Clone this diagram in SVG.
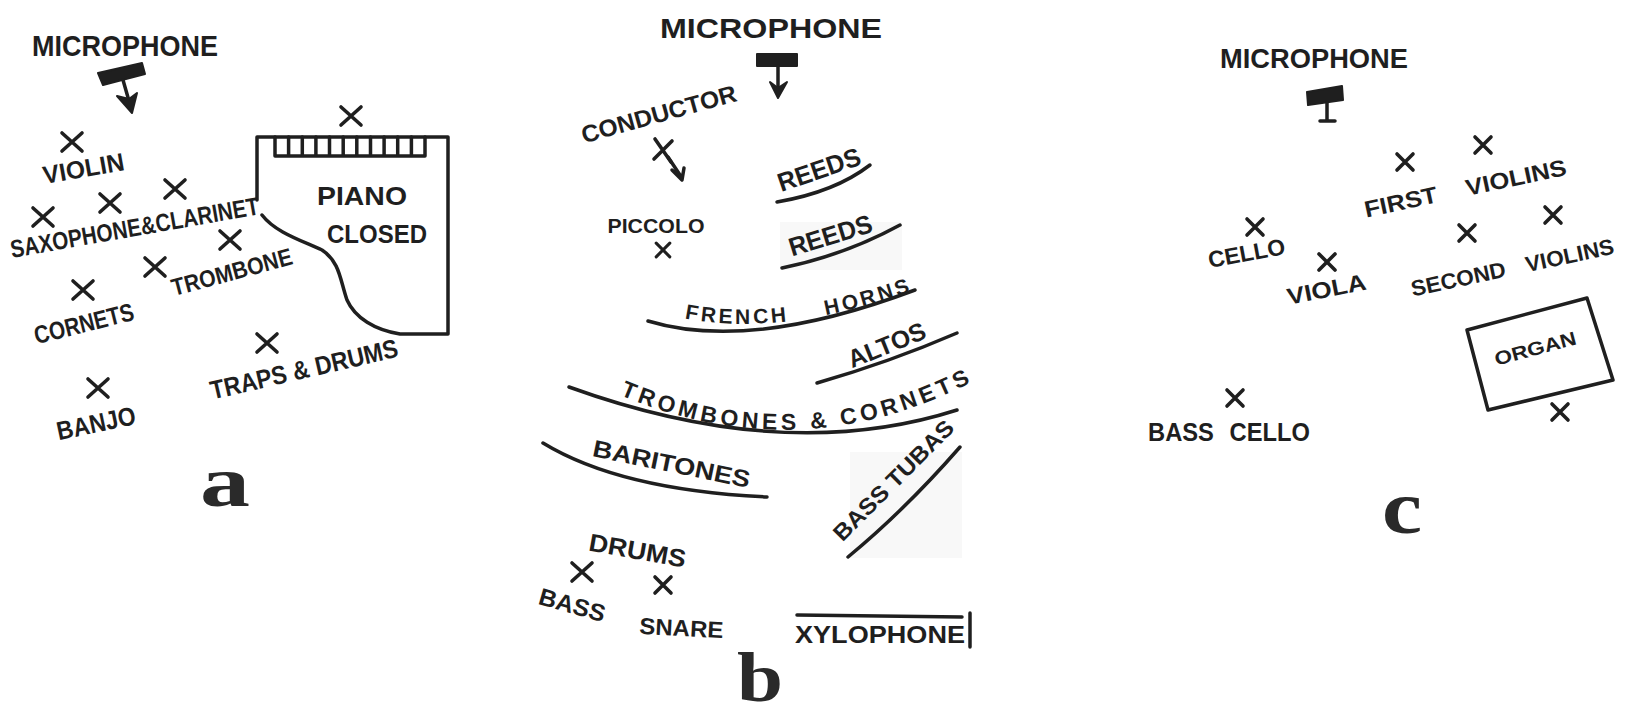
<svg xmlns="http://www.w3.org/2000/svg" xmlns:xlink="http://www.w3.org/1999/xlink" width="1633" height="718" viewBox="0 0 1633 718">
<style>
.t{font-family:"Liberation Sans",Arial,sans-serif;font-weight:bold;fill:#1f1f1f;text-anchor:middle}
.big{font-family:"Liberation Serif","Times New Roman",serif;font-weight:bold;fill:#2a2a2a;text-anchor:middle}
.ln{fill:none;stroke:#1f1f1f;stroke-width:3.5;stroke-linecap:round;stroke-linejoin:round}
.xm{fill:none;stroke:#1f1f1f;stroke-width:3.6;stroke-linecap:round}
.mic{fill:#1f1f1f;stroke:#1f1f1f;stroke-width:2;stroke-linejoin:round}
.smudge{fill:#f4f4f4;opacity:0.6}
</style>
<defs>
<path id="xa" class="xm" d="M-10,-9 L10,9 M10,-9 L-10,9"/>
<path id="xc" class="xm" d="M-8,-8 L8,8 M8,-8 L-8,8"/>
<path id="pFH" d="M683,318 Q780,338 915,290"/>
<path id="pTC" d="M622,396 Q800,470 972,382"/>
</defs>
<rect width="1633" height="718" fill="#ffffff"/>

<!-- ===== Panel a ===== -->
<g id="a-microphone">
<text class="t" x="125" y="56" font-size="30" textLength="186" lengthAdjust="spacingAndGlyphs">MICROPHONE</text>
<polygon class="mic" points="98,73 142,63 145,74 103,85"/>
</g>
<g id="a-piano">
<path class="ln" stroke-width="4" d="M257,200 L257,137 L448,137 L448,334 L400,334 C375,330 355,318 347,300 C340,280 340,262 322,250 C300,240 275,232 262,215"/>
<path class="ln" stroke-width="3" d="M275,137 L275,156 L425,156 L425,137 M288.6,137 V156 M302.3,137 V156 M315.9,137 V156 M329.5,137 V156 M343.2,137 V156 M356.8,137 V156 M370.5,137 V156 M384.1,137 V156 M397.7,137 V156 M411.4,137 V156"/>
<use href="#xa" x="351" y="116"/>
<text class="t" x="362" y="205" font-size="26" textLength="90" lengthAdjust="spacingAndGlyphs">PIANO</text>
<text class="t" x="377" y="243" font-size="26" textLength="100" lengthAdjust="spacingAndGlyphs">CLOSED</text>
</g>
<g id="a-violin">
<use href="#xa" x="72" y="142"/>
<text class="t" font-size="25" textLength="82" lengthAdjust="spacingAndGlyphs" transform="translate(85,177) rotate(-10)">VIOLIN</text>
</g>
<g id="a-saxophone-clarinet">
<use href="#xa" x="43" y="217"/>
<use href="#xa" x="110" y="203"/>
<use href="#xa" x="175" y="189"/>
<text class="t" font-size="25" textLength="252" lengthAdjust="spacingAndGlyphs" transform="translate(136,236) rotate(-10)">SAXOPHONE&amp;CLARINET</text>
</g>
<g id="a-trombone">
<use href="#xa" x="230" y="240"/>
<use href="#xa" x="155" y="267"/>
<text class="t" font-size="24" textLength="124" lengthAdjust="spacingAndGlyphs" transform="translate(234,280) rotate(-15)">TROMBONE</text>
</g>
<g id="a-cornets">
<use href="#xa" x="83" y="290"/>
<text class="t" font-size="25" textLength="102" lengthAdjust="spacingAndGlyphs" transform="translate(86,332) rotate(-14)">CORNETS</text>
</g>
<g id="a-traps-drums">
<use href="#xa" x="267" y="343"/>
<text class="t" font-size="26" textLength="192" lengthAdjust="spacingAndGlyphs" transform="translate(306,378) rotate(-13)">TRAPS &amp; DRUMS</text>
</g>
<g id="a-banjo">
<use href="#xa" x="98" y="388"/>
<text class="t" font-size="26" textLength="80" lengthAdjust="spacingAndGlyphs" transform="translate(98,432) rotate(-12)">BANJO</text>
</g>
<text class="big" x="225" y="506" font-size="72" textLength="50" lengthAdjust="spacingAndGlyphs">a</text>

<!-- ===== Panel b ===== -->
<rect class="smudge" x="780" y="222" width="122" height="48"/>
<rect class="smudge" x="850" y="452" width="112" height="106"/>
<g id="b-microphone">
<text class="t" x="771" y="38" font-size="28" textLength="222" lengthAdjust="spacingAndGlyphs">MICROPHONE</text>
<rect class="mic" x="757" y="54" width="40" height="12"/>
</g>
<g id="b-conductor">
<text class="t" font-size="24" textLength="160" lengthAdjust="spacingAndGlyphs" transform="translate(661,122) rotate(-15.5)">CONDUCTOR</text>
<path class="xm" d="M655,139 L671,162 M672,141 L654,159"/>
</g>
<g id="b-piccolo">
<text class="t" x="656" y="233" font-size="20" textLength="97" lengthAdjust="spacingAndGlyphs">PICCOLO</text>
<use href="#xc" x="663" y="250" transform="translate(663,250) scale(0.85) translate(-663,-250)"/>
</g>
<g id="b-reeds1">
<text class="t" font-size="26" textLength="86" lengthAdjust="spacingAndGlyphs" transform="translate(822,178) rotate(-19)">REEDS</text>
<path class="ln" d="M777,202 Q835,192 870,165"/>
</g>
<g id="b-reeds2">
<text class="t" font-size="26" textLength="86" lengthAdjust="spacingAndGlyphs" transform="translate(833,244) rotate(-17)">REEDS</text>
<path class="ln" d="M782,268 Q845,255 900,225"/>
</g>
<g id="b-french-horns">
<text class="t" font-size="21" letter-spacing="3" word-spacing="28"><textPath href="#pFH" startOffset="50%">FRENCH HORNS</textPath></text>
<path class="ln" d="M648,321 Q750,352 915,290"/>
</g>
<g id="b-altos">
<text class="t" font-size="25" textLength="82" lengthAdjust="spacingAndGlyphs" transform="translate(890,353) rotate(-22)">ALTOS</text>
<path class="ln" d="M817,383 Q890,362 957,333"/>
</g>
<g id="b-trombones-cornets">
<text class="t" font-size="23" letter-spacing="4"><textPath href="#pTC" startOffset="50%">TROMBONES &amp; CORNETS</textPath></text>
<path class="ln" d="M569,387 Q785,465 957,410"/>
</g>
<g id="b-baritones">
<text class="t" font-size="24" textLength="160" lengthAdjust="spacingAndGlyphs" transform="translate(670,472) rotate(11.5)">BARITONES</text>
<path class="ln" d="M543,443 Q620,490 767,497"/>
</g>
<g id="b-bass-tubas">
<text class="t" font-size="23" textLength="160" lengthAdjust="spacingAndGlyphs" transform="translate(899,486) rotate(-45)">BASS TUBAS</text>
<path class="ln" stroke-width="3" d="M848,557 Q905,510 960,447"/>
</g>
<g id="b-drums">
<text class="t" font-size="25" textLength="98" lengthAdjust="spacingAndGlyphs" transform="translate(636,559) rotate(10)">DRUMS</text>
</g>
<g id="b-bass">
<use href="#xa" x="582" y="572"/>
<text class="t" font-size="24" textLength="68" lengthAdjust="spacingAndGlyphs" transform="translate(570,613) rotate(16)">BASS</text>
</g>
<g id="b-snare">
<use href="#xc" x="663" y="585"/>
<text class="t" font-size="23" textLength="84" lengthAdjust="spacingAndGlyphs" transform="translate(681,636) rotate(3)">SNARE</text>
</g>
<g id="b-xylophone">
<path class="ln" stroke-width="3.5" d="M797,615 L962,617"/>
<path class="ln" stroke-width="2.5" d="M970,613 L970,647"/>
<text class="t" x="880" y="643" font-size="23" textLength="170" lengthAdjust="spacingAndGlyphs">XYLOPHONE</text>
</g>
<text class="big" x="760" y="701" font-size="70" textLength="46" lengthAdjust="spacingAndGlyphs">b</text>

<!-- ===== Panel c ===== -->
<g id="c-microphone">
<text class="t" x="1314" y="68" font-size="27" textLength="188" lengthAdjust="spacingAndGlyphs">MICROPHONE</text>
<polygon class="mic" points="1307,92 1342,86 1343,100 1308,105"/>
</g>
<g id="c-first-violins">
<use href="#xc" x="1405" y="162"/>
<use href="#xc" x="1483" y="145"/>
<text class="t" font-size="23" textLength="206" lengthAdjust="spacingAndGlyphs" word-spacing="20" transform="translate(1467,196) rotate(-12)">FIRST VIOLINS</text>
</g>
<g id="c-cello">
<use href="#xc" x="1255" y="227"/>
<text class="t" font-size="23" textLength="78" lengthAdjust="spacingAndGlyphs" transform="translate(1248,261) rotate(-10.5)">CELLO</text>
</g>
<g id="c-viola">
<use href="#xc" x="1327" y="262"/>
<text class="t" font-size="23" textLength="80" lengthAdjust="spacingAndGlyphs" transform="translate(1328,297) rotate(-11)">VIOLA</text>
</g>
<g id="c-second-violins">
<use href="#xc" x="1467" y="233"/>
<use href="#xc" x="1553" y="215"/>
<text class="t" font-size="22" textLength="207" lengthAdjust="spacingAndGlyphs" word-spacing="14" transform="translate(1514,275) rotate(-12)">SECOND VIOLINS</text>
</g>
<g id="c-organ">
<polygon class="ln" points="1467,330 1587,298 1613,380 1488,410"/>
<text class="t" font-size="19" textLength="84" lengthAdjust="spacingAndGlyphs" transform="translate(1537,355) rotate(-15)">ORGAN</text>
<use href="#xc" x="1560" y="412"/>
</g>
<g id="c-bass-cello">
<use href="#xc" x="1235" y="398"/>
<text class="t" x="1229" y="441" font-size="26" textLength="162" lengthAdjust="spacingAndGlyphs" word-spacing="10">BASS CELLO</text>
</g>
<text class="big" x="1402" y="533" font-size="76" textLength="40" lengthAdjust="spacingAndGlyphs">c</text>

<!-- ===== Connectors ===== -->
<g id="connectors">
<path class="ln" d="M123,80 L131,108"/>
<polygon class="mic" points="117,96 132,113 137,93 129,99"/>
<path class="ln" d="M778,66 L778,95"/>
<polygon class="mic" points="770,82 778,98 787,82 778,88"/>
<path class="ln" d="M668,157 L682,178 M672,170 L682,180 L684,168"/>
<path class="ln" d="M1327,103 L1327,120 M1320,121 L1335,121"/>
</g>
</svg>
